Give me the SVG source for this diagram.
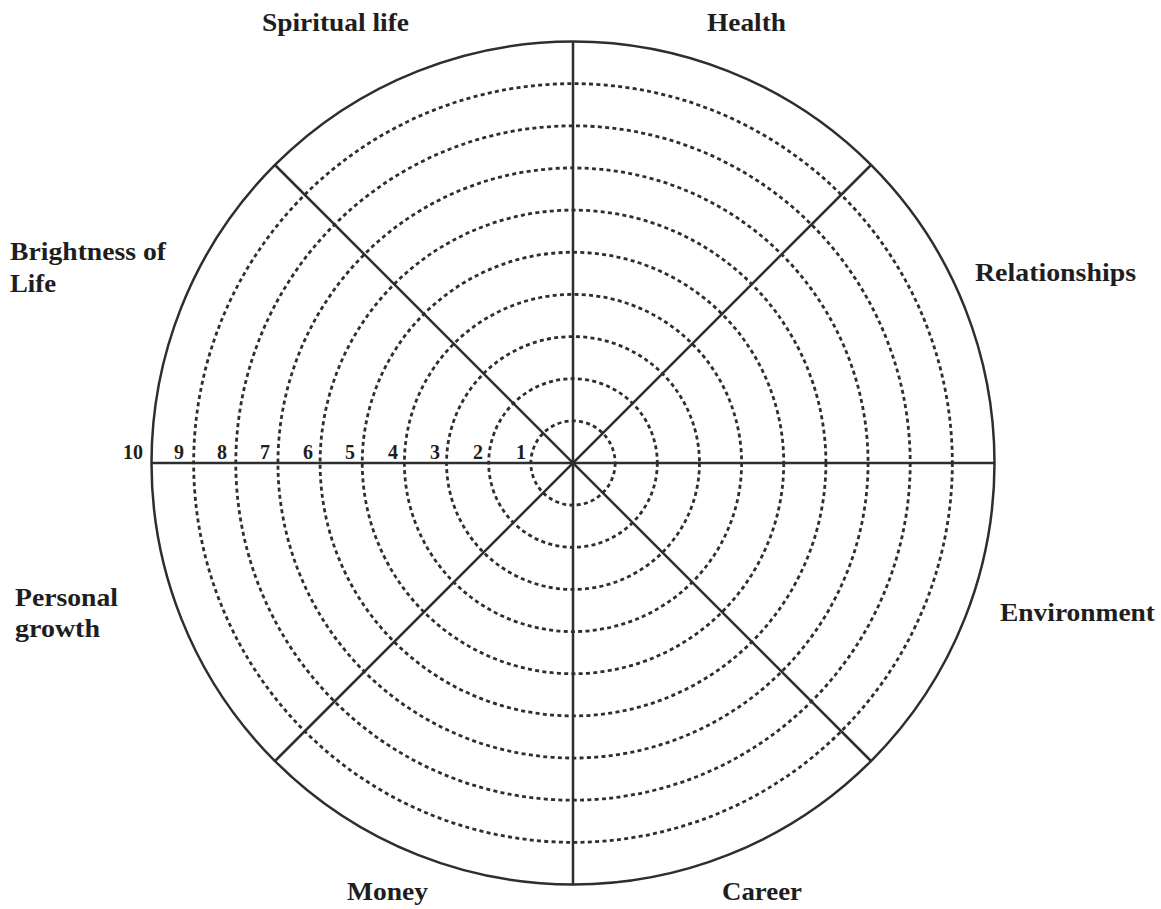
<svg xmlns="http://www.w3.org/2000/svg" width="1161" height="909" viewBox="0 0 1161 909">
<style>
.ln{stroke:#2e2e2e;stroke-width:2.5;fill:none}
.dc{stroke:#2e2e2e;stroke-width:2.8;fill:none;stroke-dasharray:4 3.3}
.lb{font-family:"Liberation Serif","DejaVu Serif",serif;font-weight:bold;font-size:26px;fill:#1e1e1e}
.nm{font-family:"Liberation Serif","DejaVu Serif",serif;font-weight:bold;font-size:20px;fill:#1e1e1e;text-anchor:middle}
</style>
<rect width="1161" height="909" fill="#ffffff"/>
<g id="rings">
<circle class="dc" cx="573" cy="463" r="42.15"/>
<circle class="dc" cx="573" cy="463" r="84.3"/>
<circle class="dc" cx="573" cy="463" r="126.45"/>
<circle class="dc" cx="573" cy="463" r="168.6"/>
<circle class="dc" cx="573" cy="463" r="210.75"/>
<circle class="dc" cx="573" cy="463" r="252.9"/>
<circle class="dc" cx="573" cy="463" r="295.05"/>
<circle class="dc" cx="573" cy="463" r="337.2"/>
<circle class="dc" cx="573" cy="463" r="379.35"/>
<circle class="ln" cx="573" cy="463" r="421.5"/>
</g>
<g id="connectors">
<line class="ln" x1="573" y1="41.5" x2="573" y2="884.5"/>
<line class="ln" x1="151.5" y1="463" x2="994.5" y2="463"/>
<line class="ln" x1="275" y1="165" x2="871" y2="761"/>
<line class="ln" x1="871" y1="165" x2="275" y2="761"/>
</g>
<g id="scale">
<text class="nm" x="133" y="459">10</text>
<text class="nm" x="179" y="459">9</text>
<text class="nm" x="222" y="459">8</text>
<text class="nm" x="265" y="459">7</text>
<text class="nm" x="308" y="459">6</text>
<text class="nm" x="350" y="459">5</text>
<text class="nm" x="393" y="459">4</text>
<text class="nm" x="435" y="459">3</text>
<text class="nm" x="478" y="459">2</text>
<text class="nm" x="521" y="459">1</text>
</g>
<g id="label-spiritual"><text class="lb" x="262" y="31" textLength="147" lengthAdjust="spacingAndGlyphs">Spiritual life</text></g>
<g id="label-health"><text class="lb" x="707" y="31" textLength="79" lengthAdjust="spacingAndGlyphs">Health</text></g>
<g id="label-relationships"><text class="lb" x="975" y="281" textLength="161" lengthAdjust="spacingAndGlyphs">Relationships</text></g>
<g id="label-environment"><text class="lb" x="1000" y="621" textLength="155" lengthAdjust="spacingAndGlyphs">Environment</text></g>
<g id="label-career"><text class="lb" x="722" y="900" textLength="80" lengthAdjust="spacingAndGlyphs">Career</text></g>
<g id="label-money"><text class="lb" x="347" y="900" textLength="81" lengthAdjust="spacingAndGlyphs">Money</text></g>
<g id="label-personal"><text class="lb" x="15" y="606" textLength="103" lengthAdjust="spacingAndGlyphs">Personal</text><text class="lb" x="15" y="637" textLength="85" lengthAdjust="spacingAndGlyphs">growth</text></g>
<g id="label-brightness"><text class="lb" x="10" y="260" textLength="156" lengthAdjust="spacingAndGlyphs">Brightness of</text><text class="lb" x="10" y="292" textLength="46" lengthAdjust="spacingAndGlyphs">Life</text></g>
</svg>
